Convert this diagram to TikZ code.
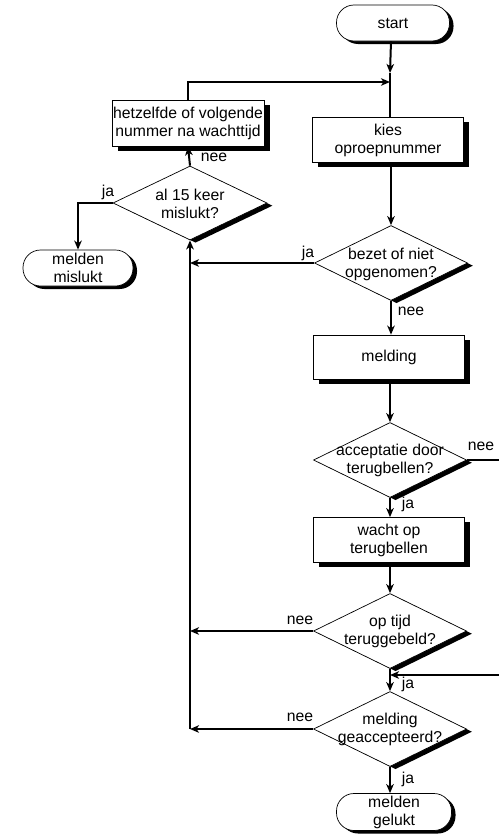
\documentclass[tikz,border=0pt]{standalone}
\usepackage{fontspec}
\setmainfont{Liberation Sans}
\usetikzlibrary{shapes.geometric,shadows,arrows.meta}
\begin{document}
\begin{tikzpicture}[x=1bp,y=-1bp,
  every node/.style={font=\fontsize{15.8}{18}\selectfont},
  box/.style={draw, line width=0.7bp, fill=white, align=center, inner sep=0pt,
    minimum width=151bp, minimum height=45bp,
    drop shadow={shadow xshift=5.5bp, shadow yshift=-4.5bp, fill=black, opacity=1}},
  term/.style={draw, line width=0.7bp, fill=white, align=center, inner sep=0pt,
    rounded corners=17.5bp, minimum width=113bp, minimum height=36bp,
    drop shadow={shadow xshift=4bp, shadow yshift=-3bp, fill=black, opacity=1}},
  dia/.style={diamond, draw, line width=0.7bp, fill=white, inner sep=0pt,
    minimum width=153bp, minimum height=75bp,
    drop shadow={shadow xshift=5.5bp, shadow yshift=-2.7bp, fill=black, opacity=1}},
  dtext/.style={align=center, inner sep=0pt},
  lbl/.style={inner sep=0pt},
  flow/.style={line width=2bp, -{Stealth[length=9bp,width=7.5bp,inset=2.5bp]}},
  plain/.style={line width=2bp}
]
\useasboundingbox (0,0) rectangle (499,834);

% nodes
\node[term] (start) at (393,23) {start};
\node[box] (kies) at (388,140) {kies\\oproepnummer};
\node[box, minimum width=152bp, minimum height=46bp] (hetz) at (188,123) {hetzelfde of volgende\\nummer na wachttijd};
\node[dia, minimum width=154bp, minimum height=74bp] (al15) at (190,203) {};
\node[dtext] (al15t) at (190,203.5) {al 15 keer\\mislukt?};
\node[term, minimum width=110bp] (mislukt) at (78,268) {melden\\mislukt};
\node[dia] (bezet) at (391,263) {};
\node[dtext] (bezett) at (391,264) {bezet of niet\\opgenomen?};
\node[box, minimum height=44bp] (melding) at (389,357) {melding};
\node[dia] (accept) at (390,460) {};
\node[dtext] (acceptt) at (390,460) {acceptatie door\\terugbellen?};
\node[box] (wacht) at (389,540) {wacht op\\terugbellen};
\node[dia] (optijd) at (390,631) {};
\node[dtext] (optijdt) at (390,631) {op tijd\\teruggebeld?};
\node[dia] (mg) at (390,729) {};
\node[dtext] (mgt) at (390,729) {melding\\geaccepteerd?};
\node[term, minimum width=115bp, minimum height=37bp] (gelukt) at (394,812) {melden\\gelukt};

% helper coordinates
\coordinate (s1) at (start.south -| bezet.north);
\coordinate (s2) at (390,73);
\coordinate (j1) at (390,82);
\coordinate (L1) at (al15.south |- bezet.west);
\coordinate (L2) at (al15.south |- optijd.west);
\coordinate (L3) at (al15.south |- mg.west);
\coordinate (E1) at (499,460);
\coordinate (E2) at (499,675);
\coordinate (j2) at (390,675);

% connectors
\draw[flow] (s1) -- (s2);
\draw[plain] (s2) -- (kies.north -| s2);
\draw[flow] (hetz.north) |- (j1);
\draw[flow] (kies.south -| bezet.north) -- (bezet.north);
\draw[flow] (bezet.west) -- (L1);
\draw[flow] (bezet.south) -- (melding.north -| bezet.south);
\draw[flow] (melding.south -| accept.north) -- (accept.north);
\draw[line width=1.5bp] (accept.east) -- (E1);
\draw[flow] (accept.south) -- (wacht.north -| accept.south);
\draw[flow] (wacht.south -| optijd.north) -- (optijd.north);
\draw[flow] (optijd.west) -- (L2);
\draw[flow] (E2) -- (j2);
\draw[flow] (optijd.south) -- (mg.north);
\draw[flow] (mg.west) -- (L3);
\draw[flow] (L3) -- (al15.south);
\draw[flow] (al15.north) -- (hetz.south);
\draw[flow] (al15.west) -| (mislukt.north);
\draw[flow] (mg.south) -- (gelukt.north -| mg.south);

% labels
\node[lbl] (l1) at (308,253) {ja};
\node[lbl] (l2) at (411,311) {nee};
\node[lbl] (l3) at (481,446) {nee};
\node[lbl] (l4) at (408,504) {ja};
\node[lbl] (l5) at (300,620) {nee};
\node[lbl] (l6) at (408,684) {ja};
\node[lbl] (l7) at (300,717) {nee};
\node[lbl] (l8) at (408,779) {ja};
\node[lbl] (l9) at (214,157) {nee};
\node[lbl] (l10) at (108,192) {ja};
\end{tikzpicture}
\end{document}
